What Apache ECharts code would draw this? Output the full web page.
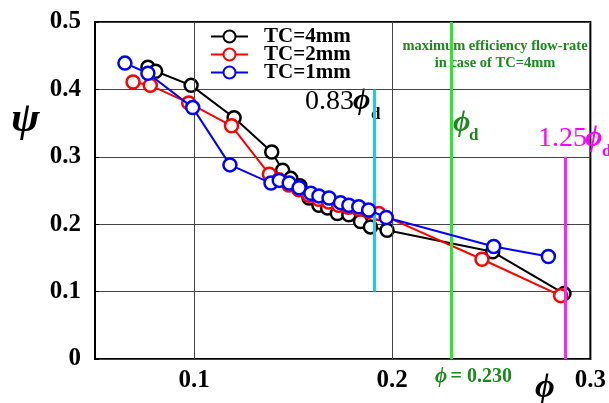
<!DOCTYPE html>
<html><head><meta charset="utf-8">
<script src="https://cdn.jsdelivr.net/npm/echarts@6/dist/echarts.min.js"></script>
<style>html,body{margin:0;padding:0;background:#fff}#c{width:609px;height:403px}</style>
</head><body><div id="c"></div>
<script>
// ---- data ----
const seriesNames = ['TC=4mm', 'TC=2mm', 'TC=1mm'];
const tc4X = [0.0767,0.0806,0.0985,0.1202,0.1392,0.1447,0.1488,0.1534,0.1580,0.1630,0.1674,0.1723,0.1781,0.1840,0.1890,0.1974,0.2507,0.2867];
const tc4Y = [0.433,0.427,0.406,0.358,0.307,0.280,0.268,0.257,0.239,0.228,0.224,0.216,0.214,0.204,0.196,0.191,0.159,0.097];
const tc2X = [0.0692,0.0779,0.0973,0.1189,0.1380,0.1428,0.1478,0.1529,0.1579,0.1629,0.1679,0.1729,0.1779,0.1830,0.1880,0.1932,0.2453,0.2850];
const tc2Y = [0.411,0.406,0.380,0.346,0.274,0.266,0.258,0.251,0.243,0.237,0.233,0.228,0.225,0.222,0.219,0.216,0.148,0.094];
const tc1X = [0.0651,0.0767,0.0993,0.1181,0.1388,0.1430,0.1480,0.1530,0.1589,0.1630,0.1681,0.1739,0.1781,0.1831,0.1881,0.1970,0.2512,0.2788];
const tc1Y = [0.439,0.424,0.373,0.288,0.261,0.265,0.261,0.254,0.246,0.242,0.239,0.232,0.228,0.226,0.221,0.210,0.167,0.152];
const xTickLabels = [0.1, 0.2, 0.3];
const xGridValues = [0.1, 0.2];
const phiD = 0.230;
const refLines = [
  {x: 0.83 * phiD, y0: 0.1, y1: 0.4, color: '#1ec8f0'},
  {x: phiD, y0: 0, y1: 0.5, color: '#22ee22'},
  {x: 1.25 * phiD, y0: 0, y1: 0.3, color: '#ff22ff'}
];
// ----------------
const zip = (xs, ys) => xs.map((x, i) => [x, ys[i]]);
const colors = ['#000000', '#ff0000', '#0000ff'];
const serif = '"Liberation Serif", "Times New Roman", serif';
const PHI = 'ϕ';
const chart = echarts.init(document.getElementById('c'));

const dataSeries = [zip(tc4X, tc4Y), zip(tc2X, tc2Y), zip(tc1X, tc1Y)].map((d, i) => ({
  name: seriesNames[i], type: 'line', data: d, z: 3 + i,
  symbol: 'circle', symbolSize: 13,
  lineStyle: {color: colors[i], width: 2},
  itemStyle: {color: '#fff', borderColor: colors[i], borderWidth: 2.5},
  emphasis: {disabled: true}, animation: false
}));

const option = {
  animation: false,
  grid: {left: 95, right: 17, top: 22, bottom: 44, show: true, borderColor: '#000', borderWidth: 2, backgroundColor: 'transparent'},
  xAxis: {
    type: 'value', min: 0.05, max: 0.3, interval: 0.05,
    axisLine: {show: false}, axisTick: {show: false}, splitLine: {show: false},
    axisLabel: {
      margin: 9, color: '#000', fontFamily: serif, fontWeight: 'bold', fontSize: 25,
      formatter: v => { const r = Math.round(v * 100) / 100; return xTickLabels.some(t => Math.abs(t - r) < 1e-6) ? String(r) : ''; }
    }
  },
  yAxis: {
    type: 'value', min: 0, max: 0.5, interval: 0.1,
    axisLine: {show: false},
    axisTick: {show: true, inside: true, length: 4, lineStyle: {color: '#000'}},
    splitLine: {show: true, lineStyle: {color: '#444', width: 1}},
    axisLabel: {margin: 14, color: '#000', fontFamily: serif, fontWeight: 'bold', fontSize: 25, formatter: v => String(Math.round(v * 10) / 10)}
  },
  legend: {
    data: seriesNames, orient: 'vertical', left: 210, top: 26, padding: 0, itemGap: -3,
    itemWidth: 37, itemHeight: 15,
    textStyle: {fontFamily: serif, fontWeight: 'bold', fontSize: 21, color: '#000', lineHeight: 17.5, padding: [0, 0, 0, 11]}
  },
  series: [
    {
      type: 'line', data: [], z: 1, silent: true,
      markLine: {silent: true, symbol: 'none', label: {show: false}, animation: false,
        lineStyle: {color: '#444', width: 1, type: 'solid'},
        data: xGridValues.map(v => ({xAxis: v}))}
    },
    ...dataSeries,
    {
      type: 'line', data: [], z: 8, silent: true,
      markLine: {silent: true, symbol: 'none', label: {show: false}, animation: false,
        data: refLines.map(r => [
          {coord: [r.x, r.y0], lineStyle: {color: r.color, width: 3, type: 'solid'}},
          {coord: [r.x, r.y1]}
        ])}
    }
  ],
  graphic: [
    {type: 'text', left: 11, top: 98, style: {text: 'ψ', font: 'italic bold 43px ' + serif, fill: '#000'}},
    {type: 'text', left: 535, top: 371, style: {text: PHI, font: 'italic bold 34px ' + serif, fill: '#000'}},
    {type: 'text', left: 435, top: 366, style: {text: '{p|' + PHI + '} {n|= 0.230}', fill: '#1a8a1a',
      rich: {p: {font: 'italic bold 21px ' + serif, fill: '#1a8a1a'}, n: {font: 'bold 20px ' + serif, fill: '#1a8a1a'}}}},
    {type: 'text', left: 305, top: 88, style: {text: '0.83', font: '28px ' + serif, fill: '#000'}},
    {type: 'text', left: 353, top: 86, style: {text: PHI, font: 'italic bold 30px ' + serif, fill: '#000'}},
    {type: 'text', left: 371, top: 106, style: {text: 'd', font: 'bold 17px ' + serif, fill: '#000'}},
    {type: 'text', left: 453, top: 108, style: {text: PHI, font: 'italic bold 30px ' + serif, fill: '#1a8a1a'}},
    {type: 'text', left: 469, top: 127, style: {text: 'd', font: 'bold 17px ' + serif, fill: '#1a8a1a'}},
    {type: 'text', left: 538, top: 125, style: {text: '1.25', font: '28px ' + serif, fill: '#ff00ff'}},
    {type: 'text', left: 585, top: 123, style: {text: PHI, font: 'italic bold 30px ' + serif, fill: '#ff00ff'}},
    {type: 'text', left: 602, top: 143, style: {text: 'd', font: 'bold 17px ' + serif, fill: '#ff00ff'}},
    {type: 'text', x: 495, y: 38, style: {text: 'maximum efficiency flow-rate\nin case of TC=4mm', align: 'center', verticalAlign: 'top', lineHeight: 17,
      font: 'bold 14.5px ' + serif, fill: '#1a8a1a'}}
  ]
};
chart.setOption(option);
</script></body></html>
